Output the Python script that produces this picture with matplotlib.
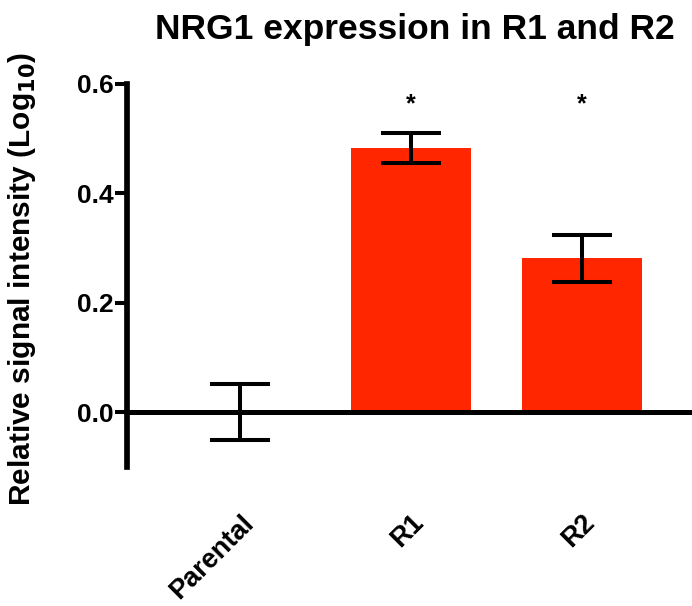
import matplotlib
matplotlib.use("Agg")
import matplotlib.pyplot as plt

plt.rcParams['font.family'] = ['Liberation Sans', 'DejaVu Sans']
plt.rcParams['font.weight'] = 'bold'

# Data
groups = ["Parental", "R1", "R2"]
values = [0.0, 0.483, 0.281]
errors = [0.052, 0.027, 0.043]
significant = [False, True, True]
yticks = [0.0, 0.2, 0.4, 0.6]

bar_color = "#FF2600"

fig = plt.figure(figsize=(6.92, 6.06), dpi=100)
ax = fig.add_axes([0.1835, 0.2299, 0.8165, 0.6315])

x = list(range(len(groups)))
ax.bar(x, values, width=0.70, color=bar_color, zorder=2)
ax.errorbar(x, values, yerr=errors, fmt='none', ecolor='black',
            elinewidth=2.9, capsize=21.5, capthick=2.9, zorder=3)

# significance markers
for xi, sig in zip(x, significant):
    if sig:
        ax.text(xi, 0.563, "*", ha='center', va='center', fontsize=18,
                fontweight='bold')

ax.set_xlim(-0.663, 2.645)
ax.set_ylim(-0.1, 0.6)

# zero line acts as the x axis
ax.axhline(0, color='black', linewidth=3.6, zorder=4, clip_on=False)

for side in ['top', 'right', 'bottom']:
    ax.spines[side].set_visible(False)
ax.spines['left'].set_linewidth(4.1)
ax.spines['left'].set_bounds(-0.1, 0.6)

ax.set_yticks(yticks)
ax.set_yticklabels([f"{t:.1f}" for t in yticks], fontsize=19, fontweight='bold')
ax.tick_params(axis='y', length=8.6, width=2.9, pad=1)

ax.set_xticks(x)
ax.set_xticklabels(groups, rotation=45, ha='right', rotation_mode='anchor',
                   fontsize=19.5, fontweight='bold')
ax.tick_params(axis='x', length=0, pad=31)

ax.set_ylabel("Relative signal intensity (Log$_{\\mathbf{10}}$)", fontsize=21.5,
              fontweight='bold')
ax.yaxis.set_label_coords(-0.158, 0.49)
fig.text(0.60, 0.952, "NRG1 expression in R1 and R2", ha='center', va='center',
         fontsize=25.5, fontweight='bold')

fig.savefig("out.png", dpi=100)
